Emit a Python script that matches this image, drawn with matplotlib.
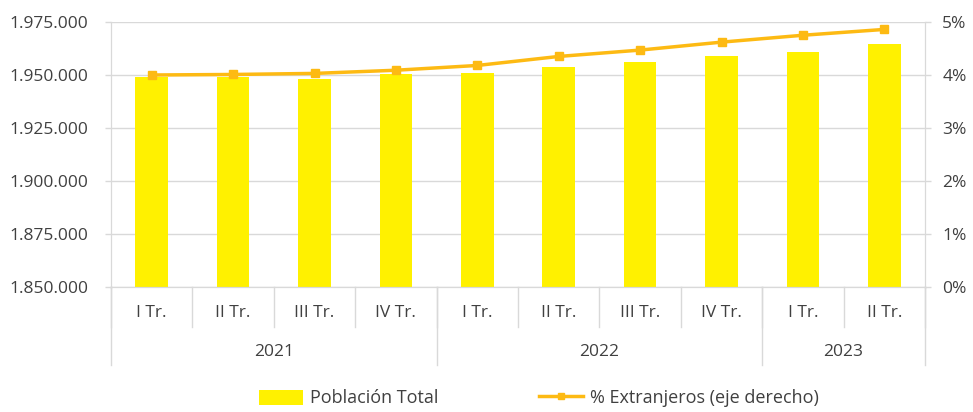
import matplotlib
matplotlib.use("Agg")
import matplotlib.pyplot as plt
from matplotlib.lines import Line2D
from matplotlib.patches import Patch

quarters = ["I Tr.", "II Tr.", "III Tr.", "IV Tr.", "I Tr.", "II Tr.", "III Tr.", "IV Tr.", "I Tr.", "II Tr."]
years = ["2021", "2022", "2023"]
year_counts = [4, 4, 2]
poblacion = [1949200, 1949000, 1948300, 1950300, 1950900, 1953600, 1956100, 1959000, 1960700, 1964600]
extranjeros = [4.00, 4.01, 4.03, 4.09, 4.18, 4.35, 4.47, 4.62, 4.75, 4.86]
left_ticks = [1850000, 1875000, 1900000, 1925000, 1950000, 1975000]
right_ticks = [0, 1, 2, 3, 4, 5]

BAR = "#FFF100"
LINE = "#FDBA13"
TXT = "#404040"
GRID = "#D9D9D9"
FS = 12.5

plt.rcParams['font.family'] = ['Open Sans', 'DejaVu Sans']

fig = plt.figure(figsize=(9.73, 4.12), dpi=100)
ax = fig.add_axes([111/973, 1-287/412, (925-111)/973, 265/412])
ax2 = ax.twinx()

x = [i + 0.5 for i in range(len(quarters))]
ax.bar(x, poblacion, width=0.4, color=BAR, zorder=2)
ax.set_ylim(1850000, 1975000)
ax.set_xlim(0, len(quarters))
ax.set_yticks(left_ticks)
ax.set_yticklabels([f"{v:,}".replace(",", ".") for v in left_ticks], fontsize=FS, color=TXT)
ax.grid(axis='y', color=GRID, linewidth=1, zorder=0)
ax.set_axisbelow(True)
ax.set_xticks([])

ax2.plot(x, extranjeros, color=LINE, linewidth=2.5, marker='s', markersize=6, zorder=3)
ax2.set_ylim(0, 5)
ax2.set_yticks(right_ticks)
ax2.set_yticklabels([f"{v}%" for v in right_ticks], fontsize=FS, color=TXT)

for a in (ax, ax2):
    a.spines['top'].set_visible(False)
    a.spines['left'].set_color(GRID)
    a.spines['right'].set_color(GRID)
    a.spines['bottom'].set_color(GRID)

ax.tick_params(axis='y', length=4.5, color=GRID, width=1, pad=12)
ax2.tick_params(axis='y', length=4.5, color=GRID, width=1, pad=8)

trans = ax.get_xaxis_transform()
for i in range(len(quarters) + 1):
    ax.plot([i, i], [0, -0.151], transform=trans, color=GRID, linewidth=1, clip_on=False)
b = 0
bounds = [0]
for c in year_counts:
    b += c
    bounds.append(b)
for bb in bounds:
    ax.plot([bb, bb], [0, -0.294], transform=trans, color=GRID, linewidth=1, clip_on=False)

for xi, q in zip(x, quarters):
    ax.text(xi, -0.098, q, transform=trans, ha='center', va='center', fontsize=FS, color=TXT)
for k, yname in enumerate(years):
    ax.text((bounds[k] + bounds[k+1]) / 2, -0.245, yname, transform=trans, ha='center', va='center',
            fontsize=FS, color=TXT)

handles = [Patch(facecolor=BAR, edgecolor='none'),
           Line2D([0], [0], color=LINE, linewidth=2.5, marker='s', markersize=5)]
fig.legend(handles, ["Población Total", "% Extranjeros (eje derecho)"], loc='lower center',
           bbox_to_anchor=(0.554, -0.028), ncol=2, frameon=False, fontsize=13,
           handlelength=2.4, handleheight=0.9, columnspacing=5.6, handletextpad=0.4, labelcolor=TXT)

fig.savefig("out.png", dpi=100)
